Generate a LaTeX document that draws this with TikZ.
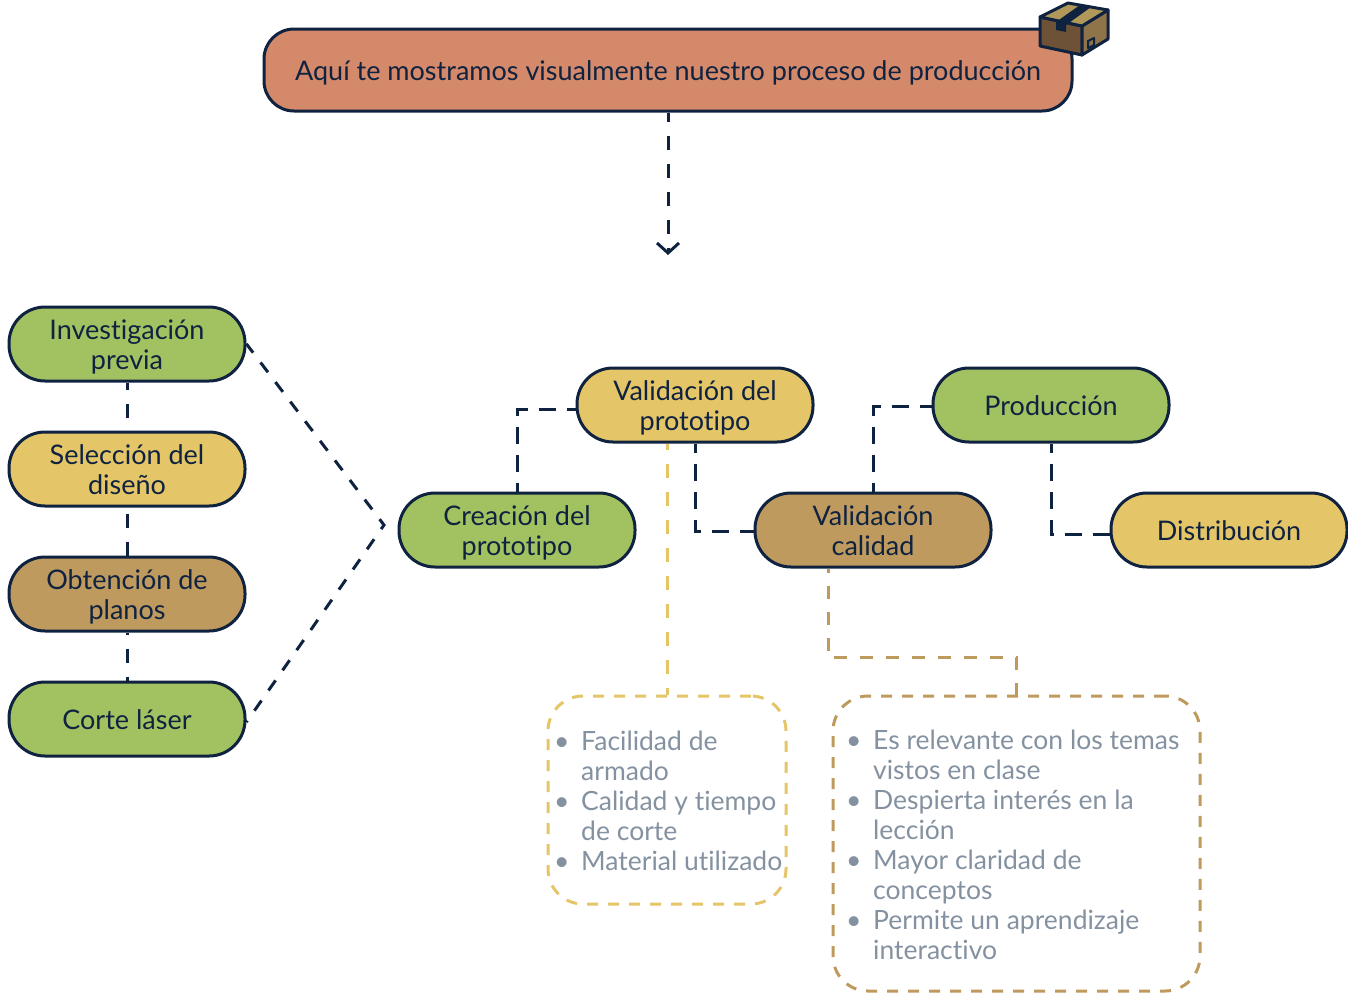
\documentclass[tikz,border=0pt]{standalone}
\usepackage{fontspec}
\setmainfont[Ligatures=CommonOff]{Lato}
\usepackage{xcolor}
\usetikzlibrary{arrows.meta,calc}
\definecolor{navy}{HTML}{0F2240}
\definecolor{leaf}{HTML}{A2C261}
\definecolor{sand}{HTML}{E4C568}
\definecolor{clay}{HTML}{BE9A5E}
\definecolor{coral}{HTML}{D4896A}
\definecolor{slate}{HTML}{8491A0}
\definecolor{boxfront}{HTML}{6E5238}
\definecolor{boxside}{HTML}{8F7349}
\definecolor{boxtop}{HTML}{B0985A}
\newcommand{\bul}{\makebox[29pt][l]{\hspace{2pt}\textbullet}}
\newcommand{\nobul}{\hspace*{29pt}}
\newcommand{\twolines}[2]{\rule{0pt}{28pt}#1\\#2\rule[-8pt]{0pt}{8pt}}
\newcommand{\oneline}[1]{\rule{0pt}{28pt}#1\rule[-8pt]{0pt}{8pt}}
\begin{document}
\begin{tikzpicture}[
  x=1pt,
  y=-1pt,
  pill/.style={draw=navy,line width=3pt,rounded corners=36pt,minimum width=236pt,minimum height=74pt,inner sep=0pt,align=center,text=navy,font=\fontsize{27}{30}\selectfont},
  link/.style={draw=navy,line width=3pt,dash pattern=on 14pt off 14pt},
  elbow/.style={link,dash pattern=on 17pt off 11pt,dash phase=8pt},
  panel/.style={line width=3pt,rounded corners=35pt,inner sep=0pt,dash pattern=on 11pt off 10pt},
  bullets/.style={anchor=north west,inner sep=0pt,align=left,text=slate,font=\fontsize{26.5}{30}\selectfont}
]
  \useasboundingbox (0,0) rectangle (1348,993);
  % title
  \node[pill,fill=coral,minimum width=808pt,minimum height=82pt,rounded corners=30pt] (title) at (668,70) {\oneline{Aquí te mostramos visualmente nuestro proceso de producción}};
  \coordinate (arrowend) at (668,255);
  \draw[link,dash phase=5pt,-{Straight Barb[length=10pt,width=22pt,line width=3pt]}] (title.south) -- (arrowend);

  % left column
  \node[pill,fill=leaf] (invest) at (127,344) {\twolines{Investigación}{previa}};
  \node[pill,fill=sand] (select) at (127,469) {\twolines{Selección del}{diseño}};
  \node[pill,fill=clay] (planos) at (127,594) {\twolines{Obtención de}{planos}};
  \node[pill,fill=leaf] (corte) at (127,719) {\oneline{Corte láser}};
  \coordinate (fork) at (384,525);
  \draw[link,dash phase=7pt] (invest) -- (select);
  \draw[link,dash phase=22pt] (select) -- (planos);
  \draw[link,dash phase=12pt] (planos) -- (corte);
  \draw[link,dash pattern=on 12.3pt off 12.3pt,dash phase=1.4pt] (invest.east) -- (fork) -- ([yshift=-3pt]corte.east);

  % process
  \node[pill,fill=leaf] (proto) at (517,530) {\twolines{Creación del}{prototipo}};
  \node[pill,fill=sand] (valproto) at (695,405) {\twolines{Validación del}{prototipo}};
  \node[pill,fill=clay] (valcal) at (873,530) {\twolines{Validación}{calidad}};
  \node[pill,fill=leaf] (prod) at (1051,405) {\oneline{Producción}};
  \node[pill,fill=sand] (distrib) at (1229,530) {\oneline{Distribución}};
  \draw[elbow] (proto.north) |- ([yshift=-4pt]valproto.west);
  \draw[elbow] (valproto.south) |- ([yshift=-1pt]valcal.west);
  \draw[elbow] (valcal.north) |- ([yshift=-1pt]prod.west);
  \draw[elbow] (prod.south) |- ([yshift=-4pt]distrib.west);

  % criteria
  \node[panel,draw=sand,minimum width=238pt,minimum height=208pt] (boxa) at (667,800) {};
  \node[panel,draw=clay,minimum width=367pt,minimum height=295pt] (boxb) at (1016.5,843.5) {};
  \draw[panel,draw=sand,rounded corners=0pt,dash pattern=on 14pt off 14pt,dash phase=8pt] (boxa.north |- valproto.south) -- (boxa.north);
  \draw[panel,draw=clay,rounded corners=0pt,dash pattern=on 13pt off 13pt,dash phase=9pt] ([xshift=-45pt]valcal.south) |- ($(boxb.north)+(0,-37)$) -- (boxb.north);
  \node[bullets] (lista) at (552,730.5) {\bul Facilidad de\\\nobul armado\\\bul Calidad y tiempo\\\nobul de corte\\\bul Material utilizado};
  \node[bullets] (listb) at (844,729.5) {\bul Es relevante con los temas\\\nobul vistos en clase\\\bul Despierta interés en la\\\nobul lección\\\bul Mayor claridad de\\\nobul conceptos\\\bul Permite un aprendizaje\\\nobul interactivo};

  % parcel
  \begin{scope}[draw=navy,line width=3pt,line join=round]
    \draw[fill=boxfront] (1040,17) -- (1082,26) -- (1082,55) -- (1040,46) -- cycle;
    \draw[fill=boxside] (1082,26) -- (1108,10) -- (1108,39) -- (1082,55) -- cycle;
    \draw[fill=boxtop] (1040,17) -- (1068,3) -- (1108,10) -- (1082,26) -- cycle;
    \fill[navy] (1056,22) -- (1080,5) -- (1091,7) -- (1066,25) -- (1066,32) -- (1056,30) -- cycle;
    \draw[line width=2pt] (1088,41) -- (1094,38) -- (1094,45) -- (1088,48) -- cycle;
  \end{scope}
\end{tikzpicture}
\end{document}
